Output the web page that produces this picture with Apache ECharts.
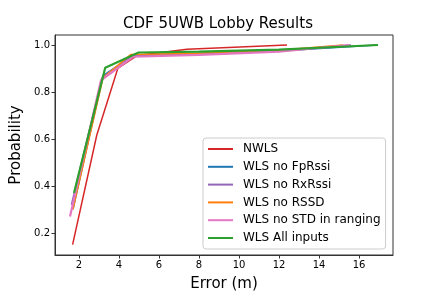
<!DOCTYPE html>
<html><head><meta charset="utf-8">
<script src="https://cdn.jsdelivr.net/npm/echarts@6/dist/echarts.min.js"></script>
<style>html,body{margin:0;padding:0;background:#fff}#c{width:436px;height:291px}</style>
</head><body><div id="c"></div>
<script>
const seriesNames = ["NWLS","WLS no FpRssi","WLS no RxRssi","WLS no RSSD","WLS no STD in ranging","WLS All inputs"];
const nwlsX = [1.68, 2.89, 3.94, 4.9, 7.4, 12.4];
const nwlsY = [0.15, 0.617, 0.90, 0.955, 0.982, 1.0];
const fpX = [1.7, 3.2, 4.7, 8, 12, 16.9];
const fpY = [0.30, 0.87, 0.955, 0.965, 0.975, 1.0];
const rxX = [1.62, 3.15, 4.6, 8, 12, 15.6];
const rxY = [0.32, 0.86, 0.955, 0.962, 0.975, 1.0];
const rssdX = [1.7, 3.2, 4.6, 8, 12, 15.2];
const rssdY = [0.30, 0.86, 0.96, 0.965, 0.978, 1.0];
const stdX = [1.55, 3.1, 4.7, 8, 12, 15.5];
const stdY = [0.27, 0.85, 0.95, 0.958, 0.972, 1.0];
const allX = [1.75, 3.31, 4.98, 8, 12, 16.95];
const allY = [0.37, 0.903, 0.968, 0.972, 0.98, 1.0];
const xTicks = [2,4,6,8,10,12,14,16];
const yTicks = [0.2,0.4,0.6,0.8,1.0];

const xs = [nwlsX, fpX, rxX, rssdX, stdX, allX];
const ys = [nwlsY, fpY, rxY, rssdY, stdY, allY];
const colors = ['#d62728','#1f77b4','#9467bd','#ff7f0e','#e377c2','#2ca02c'];
const widths = [1.5,1.5,1.5,1.5,2.2,2.2];
const font = 'DejaVu Sans';
const chart = echarts.init(document.getElementById('c'));
chart.setOption({
  animation:false,
  color: colors,
  title:{text:'CDF 5UWB Lobby Results', left:'center', top:12, textStyle:{fontFamily:font, fontSize:15, fontWeight:'normal', color:'#000'}},
  grid:{left:55, right:43, top:35, bottom:36, show:true, borderColor:'#333', borderWidth:1, containLabel:false, outerBoundsMode:'none'},
  legend:{orient:'vertical', left:203, top:138, data:seriesNames, backgroundColor:'#fff', borderColor:'#ccc', borderWidth:1, borderRadius:3,
    padding:[4,5,4,5], itemWidth:25, itemHeight:2, itemGap:3.8, icon:'rect',
    textStyle:{fontFamily:font, fontSize:12, color:'#000', lineHeight:14, padding:[0,0,0,5]}},
  xAxis:{type:'value', min:0.8, max:17.7, name:'Error (m)', nameLocation:'middle', nameGap:22,
    nameTextStyle:{fontFamily:font, fontSize:15, color:'#000'},
    axisLine:{show:true, lineStyle:{color:'#333'}}, splitLine:{show:false},
    axisTick:{show:true, customValues:xTicks, length:3.5, lineStyle:{color:'#333'}},
    axisLabel:{customValues:xTicks, fontFamily:font, fontSize:10, color:'#000', margin:5}},
  yAxis:{type:'value', min:0.106, max:1.0426, name:'Probability', nameLocation:'middle', nameGap:27,
    nameTextStyle:{fontFamily:font, fontSize:15, color:'#000'},
    axisLine:{show:true, lineStyle:{color:'#333'}}, splitLine:{show:false},
    axisTick:{show:true, customValues:yTicks, length:3.5, lineStyle:{color:'#333'}},
    axisLabel:{customValues:yTicks, fontFamily:font, fontSize:10, color:'#000', margin:5, formatter:v=>v.toFixed(1)}},
  series: seriesNames.map((n,i)=>({name:n, type:'line', showSymbol:false, symbol:'none',
    data: xs[i].map((x,j)=>[x, ys[i][j]]), lineStyle:{width:widths[i], color:colors[i]}, itemStyle:{color:colors[i]}}))
});
</script></body></html>
